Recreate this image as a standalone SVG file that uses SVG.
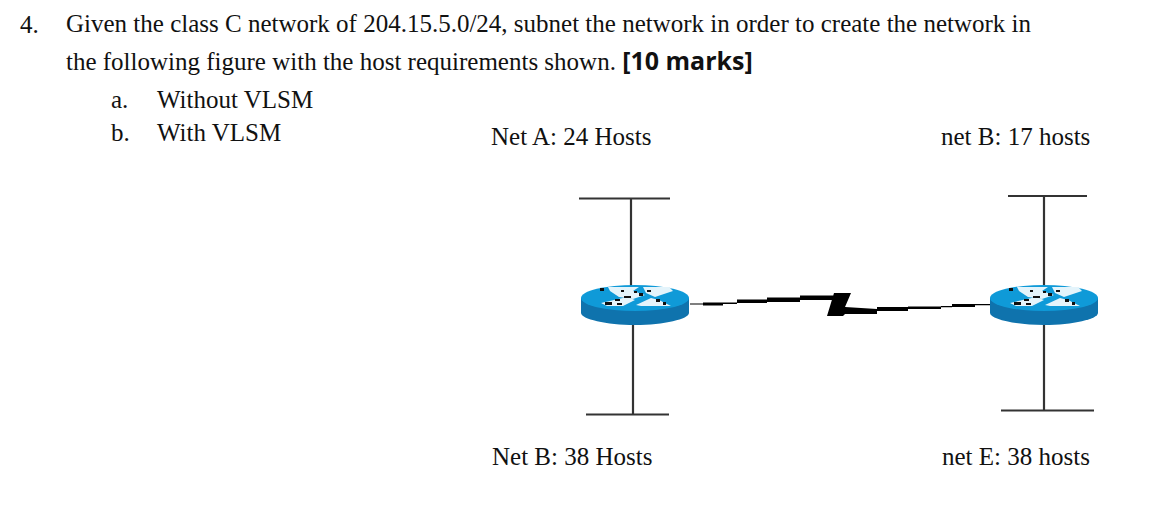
<svg xmlns="http://www.w3.org/2000/svg" width="1158" height="520" viewBox="0 0 1158 520">
<style>
text{font-family:"Liberation Serif","Times New Roman",serif;font-size:25px;fill:#111}
.b{font-family:"Open Sans","Liberation Sans",sans-serif;font-weight:700;fill:#111}
.net{stroke:#333;stroke-width:2.2;fill:none}
.top{fill:#0f9ad8}
.side{fill:#0f73ad}
.w{fill:#e4f4fb}
.d{fill:#111}
</style>
<defs>
<g id="router">
<path class="side" d="M0 0V15C0 21 25 27 54 27S108 21 108 15V0Z"/>
<ellipse class="top" cx="54" cy="0" rx="54" ry="13"/>
<g transform="translate(0 2)">
<g class="w"><path d="M27-13H58L52-9 64-5 52-1 38-3 29-9Z"/><path d="M62-13H88L92-9 74-3 65-7Z"/><path d="M20 3L46-3 54 0 42 6H26Z"/><path d="M55 5L70-2 78 0 90 6H60Z"/></g>
<g class="d"><rect x="19" y="-12" width="4" height="3"/><rect x="40" y="-10" width="3" height="2"/><rect x="53" y="-9" width="3" height="2"/><rect x="66" y="-10" width="4" height="2"/><rect x="58" y="-7" width="4" height="3"/><rect x="43" y="-4" width="7" height="2"/><rect x="34" y="-1" width="5" height="2"/><rect x="75" y="-1" width="4" height="3"/><rect x="24" y="2" width="7" height="3"/><rect x="36" y="3" width="5" height="2"/><rect x="82" y="2" width="3" height="3"/></g>
</g>
</g>
</defs>
<text x="20" y="33">4.</text>
<text x="66" y="32">Given the class C network of 204.15.5.0/24, subnet the network in order to create the network in</text>
<text x="66" y="70">the following figure with the host requirements shown. <tspan class="b">[10 marks]</tspan></text>
<text x="111" y="108">a.</text>
<text x="157" y="108">Without VLSM</text>
<text x="111" y="141">b.</text>
<text x="157" y="141">With VLSM</text>
<g id="connectors">
<path class="net" d="M579 198.500H670M631 198V288M633 322V415M586 414.500H669"/>
<path class="net" d="M1008 196H1087M1044 196V288M1044 322V411M1001 410.500H1094"/>
<path fill="#000" d="M690 303.400h13v1.200h-13zM703 302.500h20v3h-20zM723 302.500h14v1.500h-14zM737 299.500h30v3.500h-30zM767 297.500h33v4.500h-33zM800 295.500h35v4.500h-35zM834 293H851L845 307 877 309V314H845L843 316H827ZM877 307h31v4h-31zM908 306.500h33v2.500h-33zM941 306h11v1.200h-11zM952 304h23v3h-23zM975 304h15v1.200h-15z"/>
</g>
<g id="router-a"><use href="#router" x="581" y="298"/></g>
<g id="router-b"><use href="#router" x="990" y="298"/></g>
<g id="net-a"><text x="491" y="145">Net A: 24 Hosts</text></g>
<g id="net-b-top"><text x="941" y="145">net B: 17 hosts</text></g>
<g id="net-b"><text x="492" y="465">Net B: 38 Hosts</text></g>
<g id="net-e"><text x="942" y="465">net E: 38 hosts</text></g>
</svg>
